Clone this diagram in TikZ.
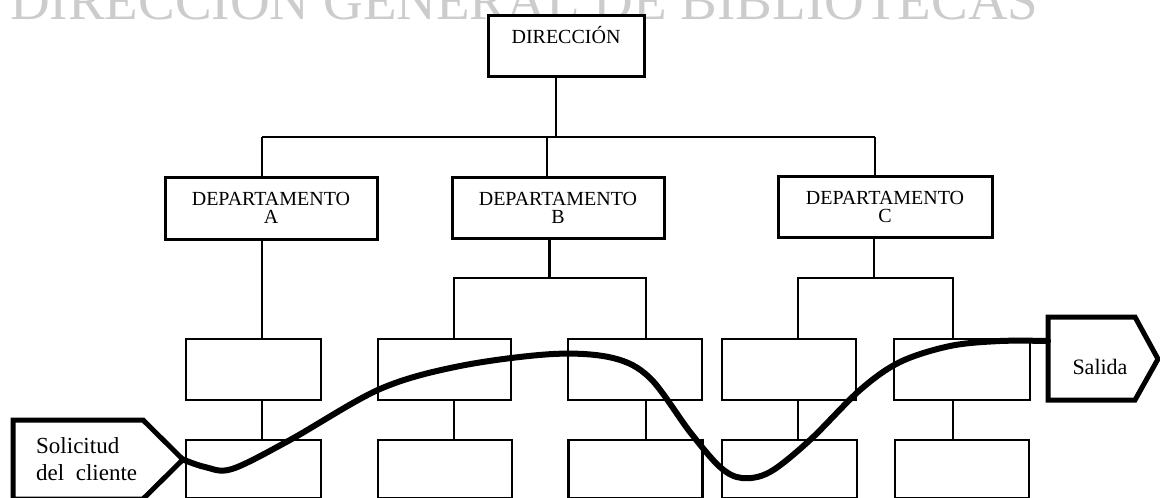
\documentclass[tikz,border=0pt]{standalone}
\usepackage{fontspec}
\setmainfont{Liberation Serif}
\begin{document}
\begin{tikzpicture}[x=1pt,y=-1pt,
  head/.style={draw, line width=3pt, inner sep=0pt, align=center,
    font=\fontsize{20}{18}\selectfont},
  unit/.style={draw, line width=2.2pt, inner sep=0pt},
  link/.style={line width=2.2pt},
  ioshape/.style={line width=5pt, line join=miter},
  flow/.style={line width=6pt, line cap=round, line join=round},
  lbl/.style={inner sep=0pt, anchor=base}]
\useasboundingbox (0,0) rectangle (1160,498);
\clip (0,0) rectangle (1160,498);

% faint heading behind the chart
\node[lbl, anchor=base west, text=black!20, font=\fontsize{55}{55}\selectfont]
  (mark) at (10,19) {DIRECCION GENERAL DE BIBLIOTECAS};

% top of the hierarchy
\node[head, fill=white, minimum width=156pt, minimum height=61pt] (dir) at (566,45.5) {};
\node[lbl, font=\fontsize{20}{18}\selectfont] (dirtext) at (566,43) {DIRECCIÓN};

% departments
\node[head, minimum width=212pt, minimum height=62pt] (depA) at (271,208) {DEPARTAMENTO\\A};
\node[head, minimum width=212pt, minimum height=61pt] (depB) at (558,207.5) {DEPARTAMENTO\\B};
\node[head, minimum width=214pt, minimum height=61pt] (depC) at (885,206.5) {DEPARTAMENTO\\C};

% first row of units
\node[unit, minimum width=135pt, minimum height=61pt] (a1) at (253.5,369.5) {};
\node[unit, minimum width=133pt, minimum height=61pt] (b1) at (444.5,369.5) {};
\node[unit, minimum width=134pt, minimum height=61pt] (b2) at (635,369.5) {};
\node[unit, minimum width=134pt, minimum height=61pt] (c1) at (789,369.5) {};
\node[unit, minimum width=136pt, minimum height=61pt] (c2) at (962,369.5) {};

% second row of units
\node[unit, minimum width=135pt, minimum height=58pt] (a2) at (253.5,469) {};
\node[unit, minimum width=134pt, minimum height=58pt] (b3) at (445,469) {};
\node[unit, minimum width=134pt, minimum height=58pt] (b4) at (635.5,469) {};
\node[unit, minimum width=135pt, minimum height=58pt] (c3) at (789.5,469) {};
\node[unit, minimum width=134pt, minimum height=58pt] (c4) at (962,469) {};

% joints of the tree lines
\coordinate (jDir) at (556,137);
\coordinate (jA) at (262,137);
\coordinate (jB) at (547,137);
\coordinate (jC) at (875,137);
\coordinate (kB) at (549,278);
\coordinate (kB1) at (454,278);
\coordinate (kB2) at (646,278);
\coordinate (kC) at (874,278);
\coordinate (kC1) at (798,278);
\coordinate (kC2) at (953,278);

% direction to departments
\draw[link, line width=2.6pt] (dir.south -| jDir) -- (jDir);
\draw[link] (jA) -- (jC);
\draw[link] (jA) -- (jA |- depA.north);
\draw[link] (jB) -- (jB |- depB.north);
\draw[link] (jC) -- (jC |- depC.north);

% department A
\draw[link] (depA.south -| jA) -- (jA |- a1.north);
\draw[link] (a1.south -| jA) -- (jA |- a2.north);

% department B
\draw[link, line width=3pt] (depB.south -| kB) -- (kB);
\draw[link] (kB1 |- b1.north) -- (kB1) -- (kB2) -- (kB2 |- b2.north);
\draw[link] (b1.south -| kB1) -- (kB1 |- b3.north);
\draw[link] (b2.south -| kB2) -- (kB2 |- b4.north);

% department C
\draw[link, line width=2.6pt] (depC.south -| kC) -- (kC);
\draw[link] (kC1 |- c1.north) -- (kC1) -- (kC2) -- (kC2 |- c2.north);
\draw[link] (c1.south -| kC1) -- (kC1 |- c3.north);
\draw[link] (c2.south -| kC2) -- (kC2 |- c4.north);

% input and output
\draw[ioshape] (13,420) -- (143,420) -- (183,459.5) -- (143,499) -- (13,499) -- cycle;
\coordinate (solTip) at (183,459.5);
\node[lbl, anchor=base west, font=\fontsize{23}{27}\selectfont] (sol1) at (36,453) {Solicitud};
\node[lbl, anchor=base west, font=\fontsize{23}{27}\selectfont] (sol2) at (36,480) {del\ \ cliente};

\draw[ioshape] (1048,317) -- (1135,317) -- (1158,359) -- (1135,400) -- (1048,400) -- cycle;
\coordinate (salIn) at (1048,341);
\node[lbl, font=\fontsize{22}{22}\selectfont] (saltext) at (1100,374) {Salida};

% path of the request through the units
\draw[flow] plot[smooth, tension=0.55] coordinates {(solTip) (205,467) (232,469) (290,440)
  (380,389) (460,366) (553,354) (613,358) (650,378) (690,432) (720,467) (742,478)
  (770,472) (810,440) (860,390) (900,362) (950,346) (1000,341) (salIn)};
\end{tikzpicture}
\end{document}
